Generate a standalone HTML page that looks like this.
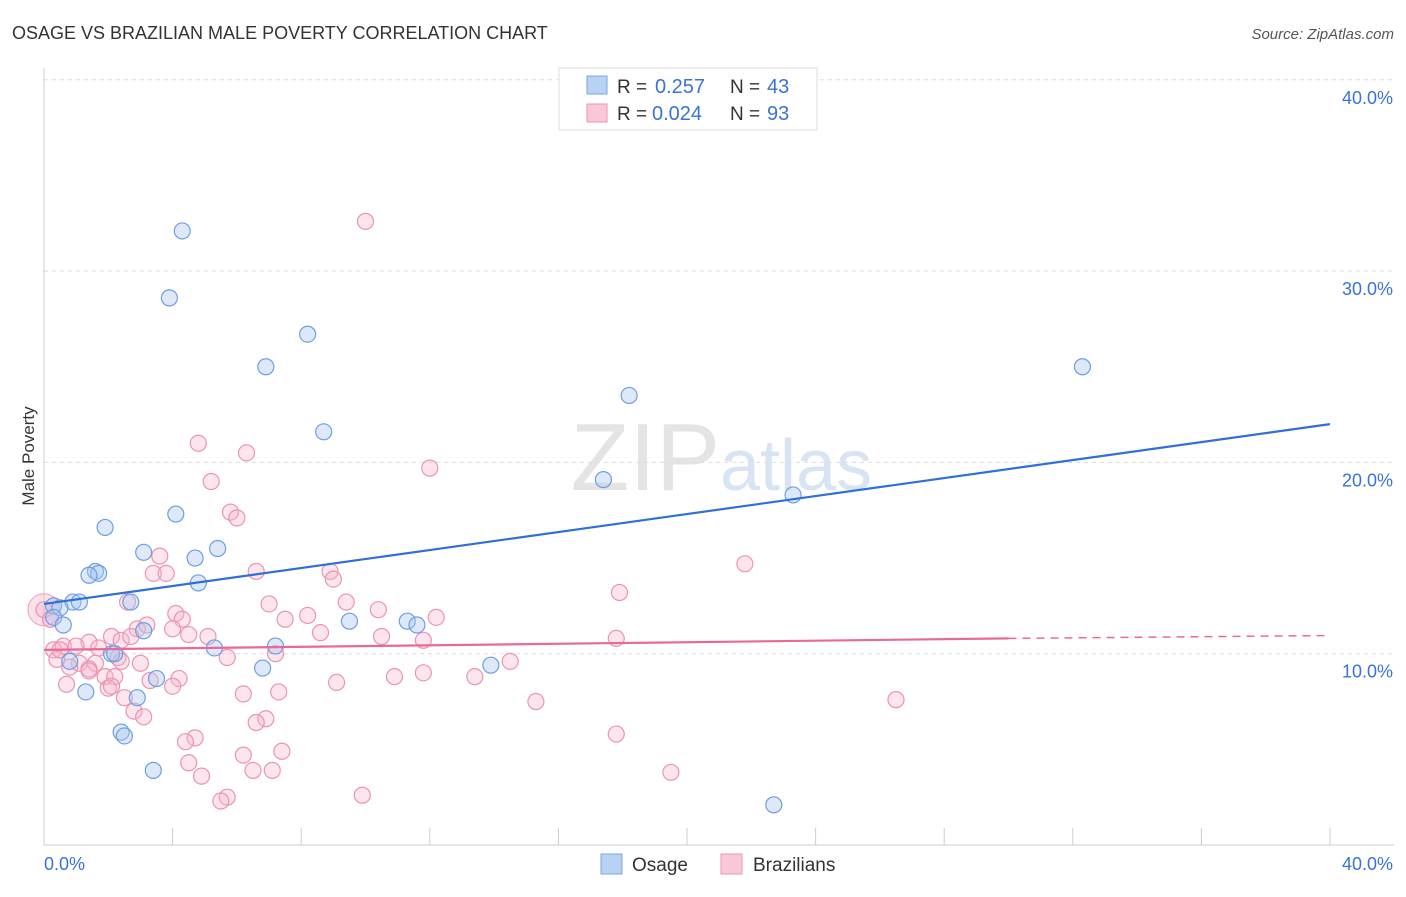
<!DOCTYPE html>
<html><head><meta charset="utf-8"><style>
body{margin:0;background:#fff;font-family:"Liberation Sans",sans-serif;}
svg text{font-family:"Liberation Sans",sans-serif;}
</style></head><body>
<svg id="c" width="1406" height="892">
<text x="12" y="39" font-size="18" fill="#333">OSAGE VS BRAZILIAN MALE POVERTY CORRELATION CHART</text>
<text x="1394" y="39" font-size="15" fill="#555" font-style="italic" text-anchor="end">Source: ZipAtlas.com</text>
<text transform="translate(34,456) rotate(-90)" font-size="17" fill="#333" text-anchor="middle">Male Poverty</text>
<text x="720" y="490" font-size="96" fill="#e4e4e4" text-anchor="end" font-family="Liberation Serif">ZIP</text>
<text x="720" y="490" font-size="72" fill="#d8e4f4">atlas</text>
<g id="grid"></g><g id="pts"></g><g id="lines"></g>
<g>
<rect x="559" y="68" width="258" height="62" fill="#fff" stroke="#ddd"/>
<rect x="587" y="76" width="20" height="18" fill="#b8d2f4" stroke="#7aa6e0"/>
<text x="617" y="93" font-size="19" fill="#333">R =</text>
<text x="655" y="93" font-size="20" fill="#3a72d8">0.257</text>
<text x="730" y="93" font-size="19" fill="#333">N =</text>
<text x="767" y="93" font-size="20" fill="#3a72d8">43</text>
<rect x="587" y="104" width="20" height="18" fill="#f9c8d6" stroke="#ee94b0"/>
<text x="617" y="120" font-size="19" fill="#333">R =</text>
<text x="652" y="120" font-size="20" fill="#3a72d8">0.024</text>
<text x="730" y="120" font-size="19" fill="#333">N =</text>
<text x="767" y="120" font-size="20" fill="#3a72d8">93</text>
</g>
<g>
<rect x="601" y="854" width="21" height="20" fill="#b8d2f4" stroke="#7aa6e0"/>
<text x="632" y="871" font-size="19" fill="#333">Osage</text>
<rect x="721" y="854" width="21" height="20" fill="#f9c8d6" stroke="#ee94b0"/>
<text x="753" y="871" font-size="19" fill="#333">Brazilians</text>
</g>
</svg>
<script>
const yTicks=[10,20,30,40];
const xTickLabels=["0.0%","40.0%"];
const blueX=[4.3,3.9,8.2,6.9,8.7,18.2,32.3,17.4,23.3,4.1,1.9,3.1,5.4,4.7,1.6,1.7,1.4,4.8,0.3,0.9,1.1,0.5,0.3,0.6,2.7,3.1,9.5,11.3,11.6,7.2,5.3,2.1,2.2,0.8,6.8,13.9,2.9,3.5,1.3,2.4,2.5,3.4,22.7];
const blueY=[32.1,28.6,26.7,25.0,21.6,23.5,25.0,19.1,18.3,17.3,16.6,15.3,15.5,15.0,14.3,14.2,14.1,13.7,12.5,12.7,12.7,12.4,11.9,11.5,12.7,11.2,11.7,11.7,11.5,10.4,10.3,10.0,10.0,9.6,9.25,9.4,7.7,8.7,8.0,5.9,5.7,3.9,2.1];
const pinkX=[10.0,4.8,6.3,12.0,5.2,5.8,6.0,3.6,3.4,3.8,6.6,8.9,9.0,21.8,17.9,2.6,7.0,9.4,10.4,12.2,4.1,4.3,8.2,7.5,4.0,2.9,3.2,8.6,4.5,5.1,10.5,11.8,17.8,2.1,1.4,2.4,2.7,0.6,1.0,0.3,1.7,0.4,1.1,1.6,0.8,1.4,3.0,2.3,5.7,7.2,14.5,10.9,11.8,13.4,4.2,1.9,2.2,1.4,0.7,2.0,2.1,4.0,9.1,6.2,7.3,15.3,26.5,2.5,2.8,3.1,6.9,6.6,4.7,4.4,17.8,7.4,6.2,4.5,4.9,6.5,7.1,19.5,5.7,5.5,9.9,0,0.2,0.5,2.4,3.3];
const pinkY=[32.6,21.0,20.5,19.7,19.0,17.4,17.1,15.1,14.2,14.2,14.3,14.3,13.9,14.7,13.2,12.7,12.6,12.7,12.3,11.9,12.1,11.8,12.0,11.8,11.3,11.3,11.5,11.1,11.0,10.9,10.9,10.7,10.8,10.9,10.6,10.7,10.9,10.4,10.4,10.2,10.3,9.7,9.5,9.5,9.3,9.2,9.5,9.8,9.8,10.0,9.6,8.8,9.0,8.8,8.7,8.8,8.8,9.1,8.4,8.2,8.3,8.3,8.5,7.9,8.0,7.5,7.6,7.7,7.0,6.7,6.6,6.4,5.6,5.4,5.8,4.9,4.7,4.3,3.6,3.9,3.9,3.8,2.5,2.3,2.6,12.3,11.8,10.2,9.6,8.6];
const blueFit=[12.6,22.0];
const pinkFit=[10.2,10.8,10.95];
const NS="http://www.w3.org/2000/svg";
const X0=44,X1=1330,Y0=845,YS=19.13;
const sx=v=>X0+(X1-X0)*v/40, sy=v=>Y0-v*YS;
function mk(t,a,p){const e=document.createElementNS(NS,t);for(const k in a)e.setAttribute(k,a[k]);p.appendChild(e);return e;}
const grid=document.getElementById('grid'),pts=document.getElementById('pts'),lines=document.getElementById('lines');
yTicks.forEach(t=>{
 const l=mk('line',{x1:X0,x2:1394,y1:sy(t),y2:sy(t),stroke:'#ddd','stroke-dasharray':'4,4'},grid);
 
 
 const tx=mk('text',{x:1393,y:sy(t)+24,'font-size':18,fill:'#3a72d8','text-anchor':'end'},grid);tx.textContent=t.toFixed(1)+'%';
 
 
});
mk('line',{x1:X0,x2:X0,y1:68,y2:Y0,stroke:'#ccc'},grid);
mk('line',{x1:X0,x2:1394,y1:Y0,y2:Y0,stroke:'#ccc'},grid);
for(let i=0;i<=10;i++){mk('line',{x1:sx(i*4),x2:sx(i*4),y1:Y0,y2:828,stroke:'#ccc'},grid);}
const xl=mk('text',{x:44,y:870,'font-size':18,fill:'#3a72d8'},grid);xl.textContent=xTickLabels[0];


const xr=mk('text',{x:1393,y:870,'font-size':18,fill:'#3a72d8','text-anchor':'end'},grid);xr.textContent=xTickLabels[1];


const big=mk('circle',{cx:sx(0),cy:sy(12.3),r:16,fill:'rgba(244,170,195,0.35)',stroke:'#eea0b8'},pts);


pinkX.forEach((v,i)=>{const c=mk('circle',{cx:sx(v),cy:sy(pinkY[i]),r:8,fill:'rgba(246,180,202,0.35)',stroke:'#eb94b2','stroke-width':1.2},pts);
 
 });
blueX.forEach((v,i)=>{const c=mk('circle',{cx:sx(v),cy:sy(blueY[i]),r:8,fill:'rgba(170,200,240,0.4)',stroke:'#6d9ee0','stroke-width':1.2},pts);
 
 });
const bl=mk('line',{x1:sx(0),y1:sy(blueFit[0]),x2:sx(40),y2:sy(blueFit[1]),stroke:'#2f6fd6','stroke-width':2.2},lines);


const pl=mk('line',{x1:sx(0),y1:sy(pinkFit[0]),x2:sx(30),y2:sy(pinkFit[1]),stroke:'#e8689a','stroke-width':2.2},lines);


const pd=mk('line',{x1:sx(30),y1:sy(pinkFit[1]),x2:sx(40),y2:sy(pinkFit[2]),stroke:'#e8689a','stroke-width':1.5,'stroke-dasharray':'8,6'},lines);


</script>
</body></html>
